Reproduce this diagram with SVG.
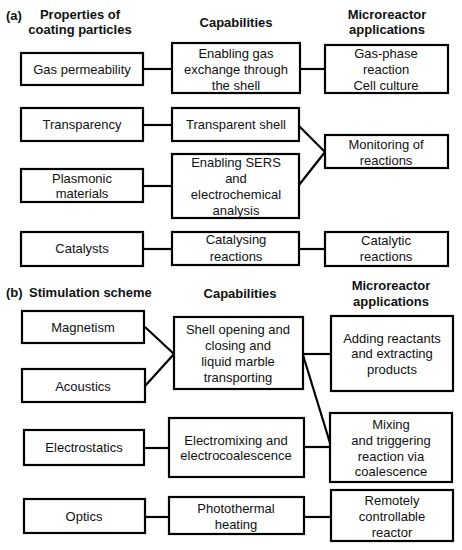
<svg xmlns="http://www.w3.org/2000/svg" width="462" height="550" viewBox="0 0 462 550">
<style>
.box{fill:#fff;stroke:#000;stroke-width:2.2}
.ln{fill:none;stroke:#000;stroke-width:2.2}
text{font-family:"Liberation Sans",Arial,sans-serif;font-size:13px;fill:#111;text-anchor:middle}
.h{font-weight:bold}
.l{text-anchor:start}
</style>
<rect width="462" height="550" fill="#fff"/>
<g id="headers">
<text class="h l" x="6" y="20">(a)</text>
<text class="h" x="80" y="19">Properties of</text>
<text class="h" x="80" y="34">coating particles</text>
<text class="h" x="236" y="27">Capabilities</text>
<text class="h" x="387" y="19">Microreactor</text>
<text class="h" x="387" y="34">applications</text>
<text class="h l" x="6" y="297">(b)</text>
<text class="h l" x="29" y="297">Stimulation scheme</text>
<text class="h" x="240" y="298">Capabilities</text>
<text class="h" x="391" y="290">Microreactor</text>
<text class="h" x="391" y="306">applications</text>
</g>
<g id="connectors">
<line class="ln" x1="143" y1="69" x2="172" y2="69"/>
<line class="ln" x1="300" y1="69" x2="325" y2="69"/>
<line class="ln" x1="143" y1="125" x2="172" y2="125"/>
<line class="ln" x1="143" y1="186" x2="172" y2="186"/>
<polyline class="ln" points="299,126 325,152 299,185"/>
<line class="ln" x1="143" y1="249" x2="172" y2="249"/>
<line class="ln" x1="300" y1="249" x2="325" y2="249"/>
<polyline class="ln" points="145,327 174,354 145,386"/>
<line class="ln" x1="303" y1="354" x2="331" y2="354"/>
<line class="ln" x1="303" y1="355" x2="330" y2="443"/>
<line class="ln" x1="144" y1="448" x2="169" y2="448"/>
<line class="ln" x1="304" y1="447" x2="330" y2="447"/>
<line class="ln" x1="145" y1="517" x2="169" y2="517"/>
<line class="ln" x1="304" y1="517" x2="331" y2="517"/>
</g>
<g id="n-gas">
<rect class="box" x="21" y="53" width="122" height="32"/>
<text x="82" y="74">Gas permeability</text>
</g>
<g id="n-exchange">
<rect class="box" x="172" y="43" width="128" height="50"/>
<text x="236" y="58">Enabling gas</text>
<text x="236" y="74">exchange through</text>
<text x="236" y="90">the shell</text>
</g>
<g id="n-gasphase">
<rect class="box" x="325" y="45" width="123" height="48"/>
<text x="386" y="58">Gas-phase</text>
<text x="386" y="74">reaction</text>
<text x="386" y="90">Cell culture</text>
</g>
<g id="n-transparency">
<rect class="box" x="21" y="108" width="122" height="33"/>
<text x="82" y="129">Transparency</text>
</g>
<g id="n-transshell">
<rect class="box" x="172" y="108" width="127" height="33"/>
<text x="236" y="129">Transparent shell</text>
</g>
<g id="n-monitoring">
<rect class="box" x="325" y="135" width="123" height="33"/>
<text x="386" y="149">Monitoring of</text>
<text x="386" y="165">reactions</text>
</g>
<g id="n-plasmonic">
<rect class="box" x="21" y="169" width="122" height="33"/>
<text x="82" y="183">Plasmonic</text>
<text x="82" y="198">materials</text>
</g>
<g id="n-sers">
<rect class="box" x="172" y="154" width="127" height="64"/>
<text x="236" y="167">Enabling SERS</text>
<text x="236" y="183">and</text>
<text x="236" y="199">electrochemical</text>
<text x="236" y="215">analysis</text>
</g>
<g id="n-catalysts">
<rect class="box" x="21" y="232" width="122" height="34"/>
<text x="82" y="253">Catalysts</text>
</g>
<g id="n-catalysing">
<rect class="box" x="172" y="232" width="127" height="33"/>
<text x="236" y="244">Catalysing</text>
<text x="236" y="261">reactions</text>
</g>
<g id="n-catalytic">
<rect class="box" x="325" y="232" width="123" height="34"/>
<text x="386" y="245">Catalytic</text>
<text x="386" y="261">reactions</text>
</g>
<g id="n-magnetism">
<rect class="box" x="22" y="311" width="122" height="32"/>
<text x="83" y="332">Magnetism</text>
</g>
<g id="n-acoustics">
<rect class="box" x="22" y="369" width="123" height="33"/>
<text x="83" y="391">Acoustics</text>
</g>
<g id="n-shell">
<rect class="box" x="174" y="317" width="129" height="72"/>
<text x="238" y="334">Shell opening and</text>
<text x="238" y="350">closing and</text>
<text x="238" y="366">liquid marble</text>
<text x="238" y="382">transporting</text>
</g>
<g id="n-adding">
<rect class="box" x="331" y="316" width="122" height="75"/>
<text x="392" y="343">Adding reactants</text>
<text x="392" y="358">and extracting</text>
<text x="392" y="374">products</text>
</g>
<g id="n-electrostatics">
<rect class="box" x="24" y="430" width="120" height="35"/>
<text x="84" y="452">Electrostatics</text>
</g>
<g id="n-electromixing">
<rect class="box" x="169" y="418" width="135" height="59"/>
<text x="236" y="445">Electromixing and</text>
<text x="236" y="460">electrocoalescence</text>
</g>
<g id="n-mixing">
<rect class="box" x="330" y="413" width="122" height="69"/>
<text x="391" y="429">Mixing</text>
<text x="391" y="445">and triggering</text>
<text x="391" y="461">reaction via</text>
<text x="391" y="476">coalescence</text>
</g>
<g id="n-optics">
<rect class="box" x="24" y="499" width="121" height="34"/>
<text x="84" y="521">Optics</text>
</g>
<g id="n-photothermal">
<rect class="box" x="169" y="497" width="135" height="37"/>
<text x="236" y="513">Photothermal</text>
<text x="236" y="529">heating</text>
</g>
<g id="n-remote">
<rect class="box" x="331" y="490" width="122" height="51"/>
<text x="392" y="505">Remotely</text>
<text x="392" y="521">controllable</text>
<text x="392" y="537">reactor</text>
</g>
</svg>
